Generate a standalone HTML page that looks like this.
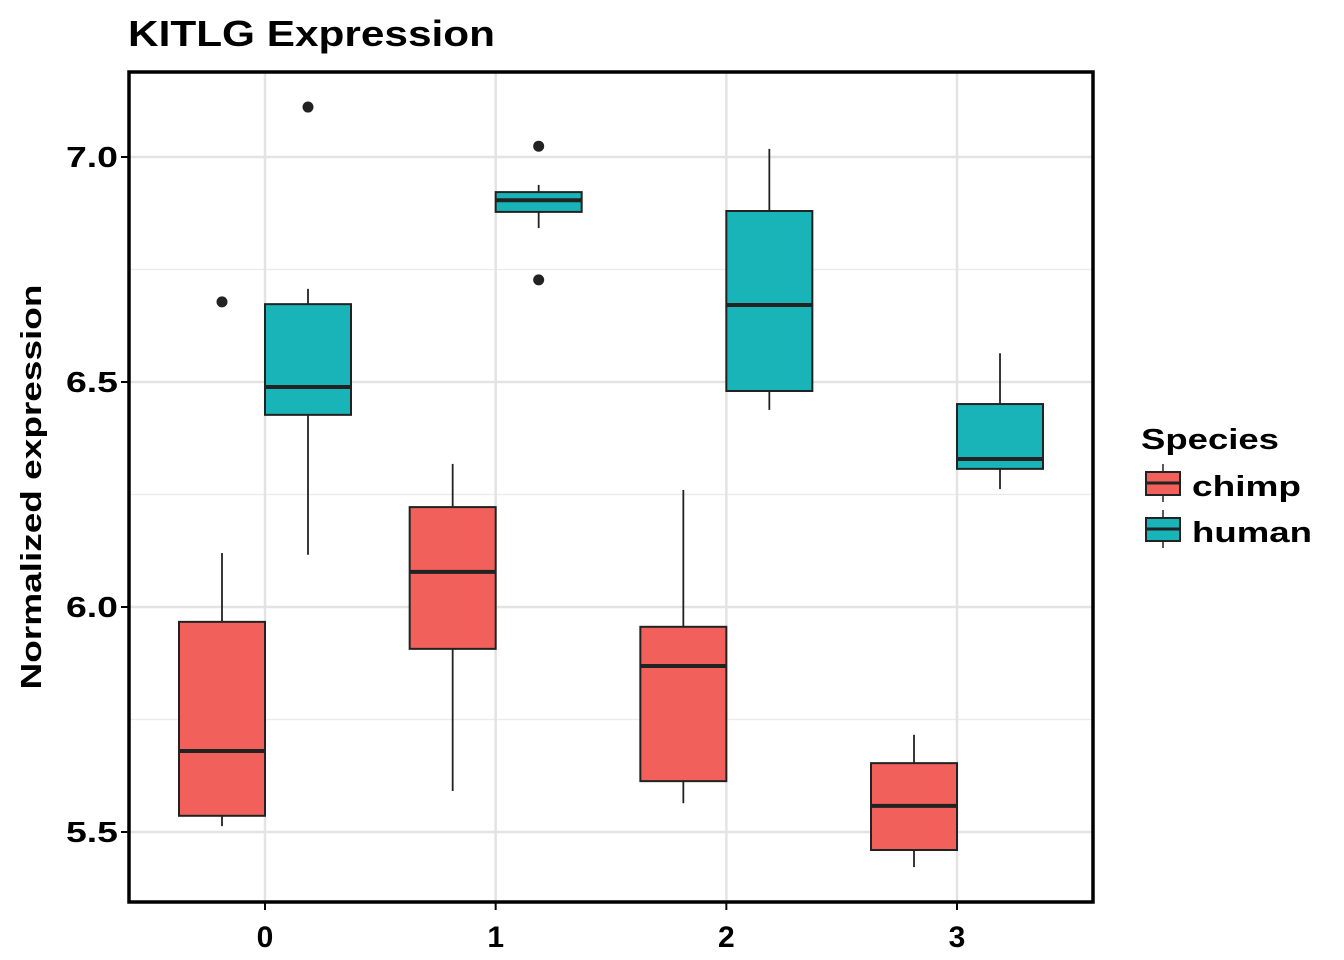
<!DOCTYPE html>
<html><head><meta charset="utf-8"><style>
body{margin:0;background:#fff;}
svg{display:block;font-family:"Liberation Sans",Arial,sans-serif;}
</style></head><body>
<svg id="chart" width="1344" height="960">
<text x="128" y="46" font-size="36" font-weight="bold" textLength="367" lengthAdjust="spacingAndGlyphs">KITLG Expression</text>
<g id="grid"></g>
<g id="boxes"></g>
<rect x="129" y="72" width="964" height="830" fill="none" stroke="#000" stroke-width="3.5"/>
<g id="axes"></g>
<text transform="translate(41,487) rotate(-90)" text-anchor="middle" font-size="29" font-weight="bold" textLength="405" lengthAdjust="spacingAndGlyphs">Normalized expression</text>
<g>
<text x="1141" y="449" font-size="29" font-weight="bold" textLength="138" lengthAdjust="spacingAndGlyphs">Species</text>
<g>
<line x1="1163" y1="464" x2="1163" y2="502" stroke="#222" stroke-width="1.5"/>
<rect x="1146" y="472" width="34" height="23" fill="#F2605B" stroke="#222" stroke-width="2"/>
<line x1="1146" y1="483" x2="1180" y2="483" stroke="#222" stroke-width="3"/>
<text x="1192" y="496" font-size="29" font-weight="bold" textLength="109" lengthAdjust="spacingAndGlyphs">chimp</text></g>
<g>
<line x1="1163" y1="510" x2="1163" y2="548" stroke="#222" stroke-width="1.5"/>
<rect x="1146" y="518" width="34" height="23" fill="#19B4B8" stroke="#222" stroke-width="2"/>
<line x1="1146" y1="529" x2="1180" y2="529" stroke="#222" stroke-width="3"/>
<text x="1192" y="542" font-size="29" font-weight="bold" textLength="120" lengthAdjust="spacingAndGlyphs">human</text></g>
</g>
</svg>
<script>
const categories=[0,1,2,3];
const chimpStats=[[5.513,5.536,5.68,5.967,6.12],[5.591,5.907,6.078,6.222,6.318],[5.564,5.613,5.869,5.956,6.26],[5.422,5.46,5.558,5.653,5.716]];
const humanStats=[[6.116,6.427,6.489,6.673,6.707],[6.842,6.878,6.904,6.922,6.938],[6.438,6.48,6.671,6.88,7.018],[6.262,6.307,6.329,6.451,6.564]];
const chimpOutliers=[[6.678],[],[],[]];
const humanOutliers=[[7.111],[7.024,6.727],[],[]];
const yTicks=[5.5,6.0,6.5,7.0];
const yTickLabels=["5.5","6.0","6.5","7.0"];
const yMinor=[5.75,6.25,6.75];
const NS="http://www.w3.org/2000/svg";
const L=129,R=1093,T=72,B=902;
const y=v=>157+(7.0-v)*450;
const x=c=>265+c*230.67;
function mk(tag,attrs,parent){const e=document.createElementNS(NS,tag);for(const k in attrs)e.setAttribute(k,attrs[k]);parent.appendChild(e);return e;}
const grid=document.getElementById('grid'),boxes=document.getElementById('boxes'),axes=document.getElementById('axes');
mk('rect',{x:L,y:T,width:R-L,height:B-T,fill:'#fff'},grid);
yMinor.forEach(v=>{const l=mk('line',{x1:L,x2:R,y1:y(v),y2:y(v),stroke:'#ebebeb','stroke-width':1.3},grid);

});
yTicks.forEach((v,i)=>{const l=mk('line',{x1:L,x2:R,y1:y(v),y2:y(v),stroke:'#e3e3e3','stroke-width':2.5},grid);


mk('line',{x1:L-8,x2:L,y1:y(v),y2:y(v),stroke:'#000','stroke-width':2},axes);
const t=mk('text',{x:L-63,y:y(v)+10,'font-size':29,'font-weight':'bold',textLength:52,lengthAdjust:'spacingAndGlyphs'},axes);t.textContent=yTickLabels[i];

});
categories.forEach(c=>{const l=mk('line',{x1:x(c),x2:x(c),y1:T,y2:B,stroke:'#e3e3e3','stroke-width':2.5},grid);


mk('line',{x1:x(c),x2:x(c),y1:B,y2:B+8,stroke:'#000','stroke-width':2},axes);
const t=mk('text',{x:x(c),y:B+45,'text-anchor':'middle','font-size':30,'font-weight':'bold'},axes);t.textContent=c;

});
function drawBox(s,outs,cx,fill,name){
const g=mk('g',{},boxes);


const w=86;
mk('line',{x1:cx,x2:cx,y1:y(s[4]),y2:y(s[3]),stroke:'#222','stroke-width':1.8},g);
mk('line',{x1:cx,x2:cx,y1:y(s[1]),y2:y(s[0]),stroke:'#222','stroke-width':1.8},g);
mk('rect',{x:cx-w/2,y:y(s[3]),width:w,height:y(s[1])-y(s[3]),fill:fill,stroke:'#222','stroke-width':2},g);
mk('line',{x1:cx-w/2,x2:cx+w/2,y1:y(s[2]),y2:y(s[2]),stroke:'#222','stroke-width':4},g);
outs.forEach(o=>mk('circle',{cx:cx,cy:y(o),r:5.5,fill:'#222'},g));}
categories.forEach((c,i)=>{
drawBox(chimpStats[i],chimpOutliers[i],x(c)-43,'#F2605B','box-chimp-'+c);
drawBox(humanStats[i],humanOutliers[i],x(c)+43,'#19B4B8','box-human-'+c);});
</script>
</body></html>
